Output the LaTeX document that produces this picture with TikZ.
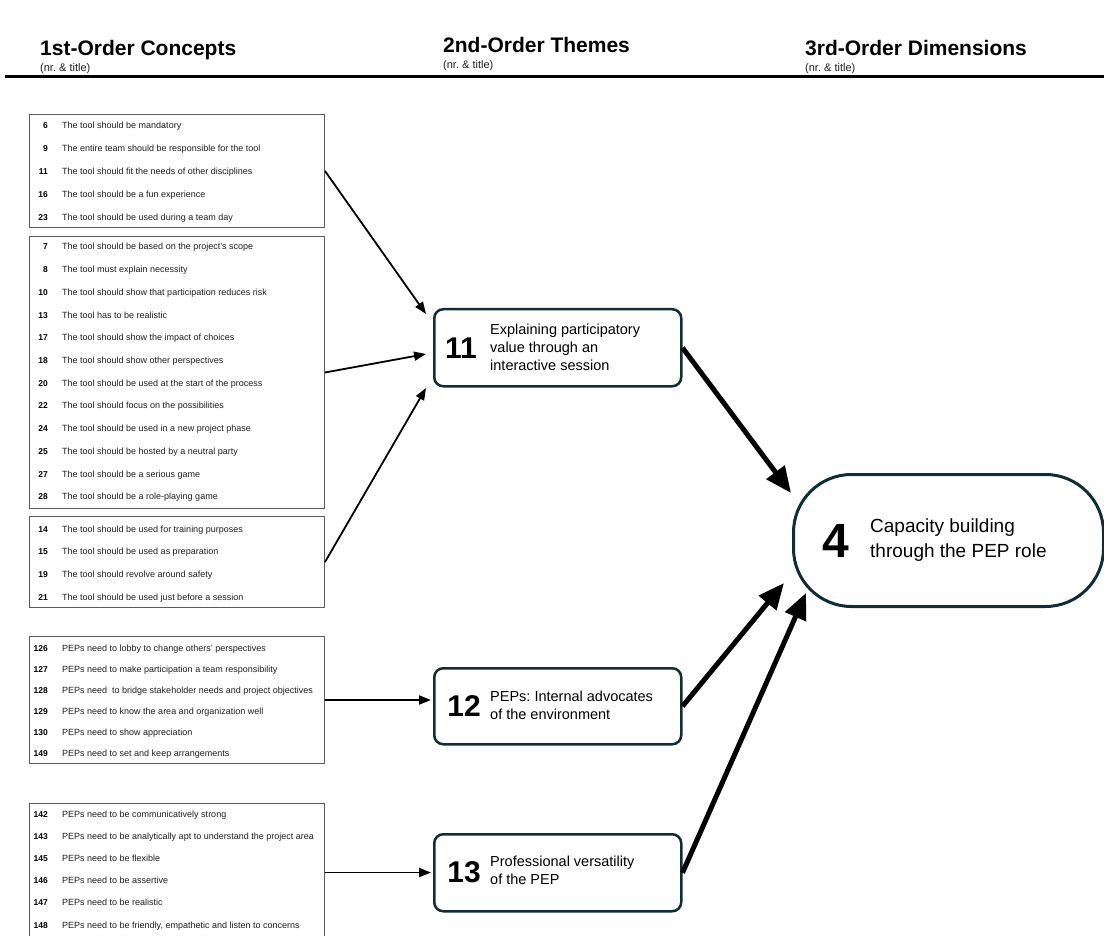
\documentclass[tikz,border=0pt]{standalone}
\usepackage{fontspec}
\setmainfont{Liberation Sans}
\usetikzlibrary{arrows.meta,calc}
\definecolor{frame}{HTML}{0F2C38}
\definecolor{listframe}{HTML}{5A5A5A}
\definecolor{ink}{HTML}{1E1E1E}
\frenchspacing
\begin{document}
\begin{tikzpicture}[x=1pt,y=-1pt,
  head/.style={anchor=base west,inner sep=0pt,font=\fontsize{21}{24}\selectfont\bfseries},
  subhead/.style={anchor=base west,inner sep=0pt,font=\fontsize{11}{12}\selectfont,text=ink},
  listbox/.style={draw=listframe,line width=1pt,inner sep=0pt,anchor=north west,minimum width=295pt},
  num/.style={anchor=base east,inner sep=0pt,font=\fontsize{8.5}{10}\selectfont\bfseries},
  item/.style={anchor=base west,inner sep=0pt,font=\fontsize{9}{10}\selectfont,text=ink},
  theme/.style={draw=frame,line width=2.5pt,rounded corners=9pt,inner sep=0pt,anchor=north west,minimum width=247pt},
  themenum/.style={anchor=east,inner sep=0pt,font=\fontsize{30}{30}\selectfont\bfseries},
  themetext/.style={anchor=west,inner sep=0pt,align=left,font=\fontsize{14.5}{18}\selectfont},
  dimbox/.style={draw=frame,line width=3pt,rounded corners=58pt,inner sep=0pt,anchor=north west},
  thin/.style={line width=1.8pt,-{Triangle[length=12pt,width=9pt]}},
  thick/.style={line width=5pt,-{Triangle[length=26pt,width=22pt]}}
]
\clip (0,0) rectangle (1104,936);

% column headings
\node[head] (h1) at (40,56) {1st-Order Concepts};
\node[subhead] (s1) at (40,72) {(nr. \& title)};
\node[head] (h2) at (443,53) {2nd-Order Themes};
\node[subhead] (s2) at (443,69) {(nr. \& title)};
\node[head] (h3) at (805,56) {3rd-Order Dimensions};
\node[subhead] (s3) at (805,72) {(nr. \& title)};
\coordinate (ruleL) at (5,77);
\coordinate (ruleR) at (1104,77);
\draw[line width=3pt] (ruleL) -- (ruleR);

% first-order concept lists
\node[listbox,minimum height=113pt] (b1) at (29,114) {};
\foreach \n/\t [count=\i from 0] in {6/The tool should be mandatory,
  9/The entire team should be responsible for the tool,
  11/The tool should fit the needs of other disciplines,
  16/The tool should be a fun experience,
  23/The tool should be used during a team day}
{
  \node[num] (b1n\i) at (48,129+\i*23) {\n};
  \node[item] (b1t\i) at (62,129+\i*23) {\t};
}

\node[listbox,minimum height=272pt] (b2) at (29,236) {};
\foreach \n/\t [count=\i from 0] in {7/The tool should be based on the project's scope,
  8/The tool must explain necessity,
  10/The tool should show that participation reduces risk,
  13/The tool has to be realistic,
  17/The tool should show the impact of choices,
  18/The tool should show other perspectives,
  20/The tool should be used at the start of the process,
  22/The tool should focus on the possibilities,
  24/The tool should be used in a new project phase,
  25/The tool should be hosted by a neutral party,
  27/The tool should be a serious game,
  28/The tool should be a role-playing game}
{
  \node[num] (b2n\i) at (48,250+\i*22.7) {\n};
  \node[item] (b2t\i) at (62,250+\i*22.7) {\t};
}

\node[listbox,minimum height=91pt] (b3) at (29,516) {};
\foreach \n/\t [count=\i from 0] in {14/The tool should be used for training purposes,
  15/The tool should be used as preparation,
  19/The tool should revolve around safety,
  21/The tool should be used just before a session}
{
  \node[num] (b3n\i) at (48,532+\i*22.7) {\n};
  \node[item] (b3t\i) at (62,532+\i*22.7) {\t};
}

\node[listbox,minimum height=127pt] (b4) at (29,636) {};
\foreach \n/\t [count=\i from 0] in {126/PEPs need to lobby to change others' perspectives,
  127/PEPs need to make participation a team responsibility,
  128/PEPs need\ \ to bridge stakeholder needs and project objectives,
  129/PEPs need to know the area and organization well,
  130/PEPs need to show appreciation,
  149/PEPs need to set and keep arrangements}
{
  \node[num] (b4n\i) at (48,651+\i*21) {\n};
  \node[item] (b4t\i) at (62,651+\i*21) {\t};
}

\node[listbox,minimum height=138pt] (b5) at (29,803) {};
\foreach \n/\t [count=\i from 0] in {142/PEPs need to be communicatively strong,
  143/PEPs need to be analytically apt to understand the project area,
  145/PEPs need to be flexible,
  146/PEPs need to be assertive,
  147/PEPs need to be realistic,
  148/{PEPs need to be friendly, empathetic and listen to concerns}}
{
  \node[num] (b5n\i) at (48,817+\i*22.2) {\n};
  \node[item] (b5t\i) at (62,817+\i*22.2) {\t};
}

% second-order themes
\node[theme,minimum height=77pt] (t11) at (433,308) {};
\node[themenum] (t11n) at (477,348) {11};
\node[themetext] (t11t) at (490,347) {Explaining participatory\\value through an\\interactive session};

\node[theme,minimum height=76pt] (t12) at (433,667) {};
\node[themenum] (t12n) at (481,706) {12};
\node[themetext] (t12t) at (490,705) {PEPs: Internal advocates\\of the environment};

\node[theme,minimum height=77pt] (t13) at (433,833) {};
\node[themenum] (t13n) at (481,872) {13};
\node[themetext] (t13t) at (490,870) {Professional versatility\\of the PEP};

% third-order dimension
\node[dimbox,minimum width=310pt,minimum height=132pt] (d4) at (792,473) {};
\node[anchor=center,inner sep=0pt,font=\fontsize{48}{48}\selectfont\bfseries] (d4n) at (836,541) {4};
\node[anchor=west,inner sep=0pt,align=left,font=\fontsize{19}{25}\selectfont] (d4t) at (870,540) {Capacity building\\through the PEP role};

% arrow end points next to the theme and dimension boxes
\coordinate (in11a) at (426,314);
\coordinate (in11b) at (426,354);
\coordinate (in11c) at (426,388);
\coordinate (in4a) at (791,493);
\coordinate (in4b) at (784,583);
\coordinate (in4c) at (806,593);

% concepts to themes
\draw[thin] (b1.east) -- (in11a);
\draw[thin] (b2.east) -- (in11b);
\draw[thin] (b3.east) -- (in11c);
\draw[thin,shorten >=2pt] (b4.east) -- (b4.east -| t12.west);
\draw[thin,shorten >=2pt] (b5.east) -- (b5.east -| t13.west);

% themes to dimension
\draw[thick] (t11.east) -- (in4a);
\draw[thick] (t12.east) -- (in4b);
\draw[thick] (t13.east) -- (in4c);
\end{tikzpicture}
\end{document}
